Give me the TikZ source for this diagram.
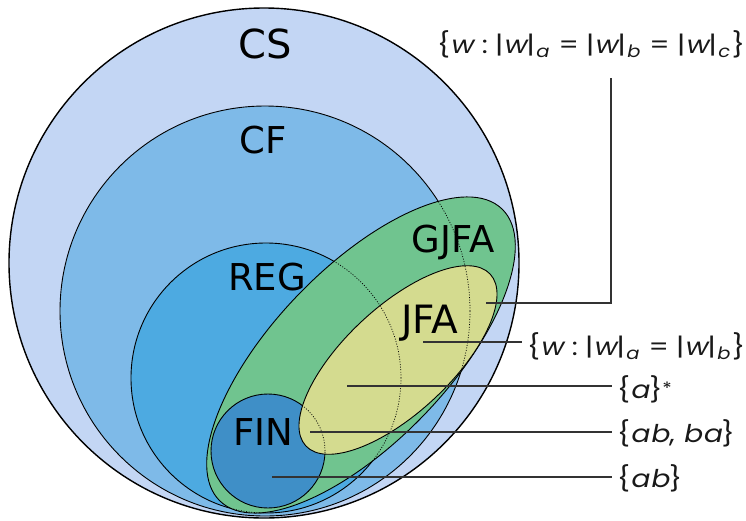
\documentclass[tikz,border=0pt]{standalone}
\usepackage{fontspec}
\setmainfont{DejaVu Sans}
\newfontfamily\setup[FakeStretch=1.15, LetterSpace=3]{Poppins}
\newfontfamily\setsl[FakeSlant=0.2, FakeStretch=1.15, LetterSpace=3]{Poppins}
\newcommand\sv[1]{{\setsl #1}}
\newcommand\ssub[1]{\hspace{0.03em}\raisebox{-0.35ex}{\fontsize{17}{17}\setsl #1}\hspace{0.1em}}
\newcommand\colsep{\hspace{0.35em}:\hspace{0.3em}}
\newcommand\eqsep{\hspace{0.3em}=\hspace{0.3em}}
\definecolor{csc}{HTML}{C3D6F4}
\definecolor{cfc}{HTML}{7EBAE8}
\definecolor{regc}{HTML}{4DAAE1}
\definecolor{finc}{HTML}{3F8FC7}
\definecolor{gjfac}{HTML}{70C48F}
\definecolor{jfac}{HTML}{D4DB8F}
\tikzset{
  region/.style={draw=black, line width=0.9pt},
  hiddenedge/.style={draw=black, line width=0.7pt, dash pattern=on 1pt off 1.6pt},
  big/.style={font=\fontsize{37}{40}\selectfont, inner sep=0pt, anchor=base},
  setlbl/.style={font=\setup\fontsize{24.5}{28}\selectfont, text=black!90, anchor=west, inner xsep=5pt, inner ysep=0pt},
  callout/.style={draw=black!80, line width=1.1pt},
  gjfashape/.style={shift={(361,355)}, rotate=46},
  jfashape/.style={shift={(398,360)}, rotate=43},
}
\begin{document}
\begin{tikzpicture}[x=1pt,y=-1pt]
\useasboundingbox (0,0) rectangle (746,520);
% regions
\path[region, fill=csc, line width=1.4pt] (264,263) circle [radius=255pt];
\path[region, fill=cfc] (265,311) circle [radius=205pt];
\path[region, fill=regc] (266,378) circle [radius=135pt];
\path[region, fill=gjfac, gjfashape] (0,0) ellipse [x radius=203pt, y radius=87pt];
\path[region, fill=finc] (268,451) circle [radius=57pt];
\path[region, fill=jfac, jfashape] (0,0) ellipse [x radius=126pt, y radius=53pt];
% hidden edges
\begin{scope}
  \clip[gjfashape] (0,0) ellipse [x radius=203pt, y radius=87pt];
  \draw[hiddenedge] (265,311) circle [radius=205pt];
  \draw[hiddenedge] (266,378) circle [radius=135pt];
\end{scope}
\begin{scope}
  \clip[jfashape] (0,0) ellipse [x radius=126pt, y radius=53pt];
  \draw[hiddenedge] (268,451) circle [radius=57pt];
\end{scope}
% class labels
\node[big, font=\fontsize{40}{44}\selectfont] (cs) at (265,58) {CS};
\node[big] (cf) at (263,153) {CF};
\node[big] (reg) at (267,290) {REG};
\node[big] (gjfa) at (453,252) {GJFA};
\node[big, font=\fontsize{39}{42}\selectfont] (jfa) at (430,333) {JFA};
\node[big] (fin) at (263,445) {FIN};
% set labels
\node[setlbl] (l1) at (432,44) {\{\sv{w}\colsep|\sv{w}|\ssub{a}\eqsep|\sv{w}|\ssub{b}\eqsep|\sv{w}|\ssub{c}\}};
\node[setlbl] (l2) at (522,346) {\{\sv{w}\colsep|\sv{w}|\ssub{a}\eqsep|\sv{w}|\ssub{b}\}};
\node[setlbl] (l3) at (612,389) {\{\sv{a}\}\raisebox{0.25ex}{\fontsize{17}{17}\selectfont *}};
\node[setlbl] (l4) at (612,433) {\{\sv{ab}, \sv{ba}\}};
\node[setlbl] (l5) at (612,478) {\{\sv{ab}\}};
% callouts
\coordinate (p1) at (486,303);
\coordinate (q1) at (611,78);
\coordinate (p2) at (423,342);
\coordinate (p3) at (347,386);
\coordinate (p4) at (310,432);
\coordinate (p5) at (272,477);
\draw[callout] (p1) -| (q1);
\draw[callout] (p2) -- (p2 -| l2.west);
\draw[callout] (p3) -- (p3 -| l3.west);
\draw[callout] (p4) -- (p4 -| l4.west);
\draw[callout] (p5) -- (p5 -| l5.west);
\end{tikzpicture}
\end{document}
